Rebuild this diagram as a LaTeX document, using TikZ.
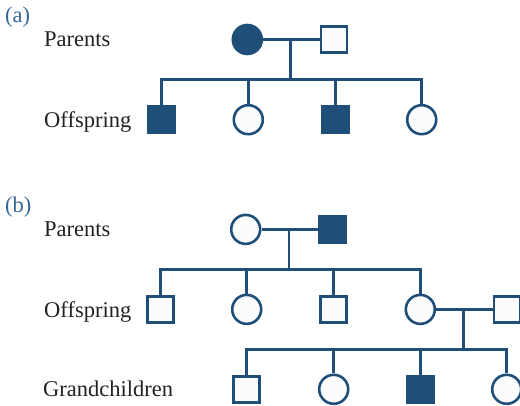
\documentclass[tikz,border=0pt]{standalone}
\usepackage{fontspec}
\setmainfont{Liberation Serif}
\definecolor{pedblue}{HTML}{1F4F78}
\definecolor{labelblue}{HTML}{36689A}
\definecolor{paleblue}{HTML}{FAFCFE}
\definecolor{inkgray}{HTML}{222222}
\tikzset{
  font=\fontsize{22.5}{27}\selectfont,
  member/.style={
    draw=pedblue,
    fill=paleblue,
    line width=2.6pt,
    inner sep=0pt
  },
  male/.style={member, rectangle, minimum size=26pt},
  female/.style={member, circle, minimum size=29pt},
  affected/.style={fill=pedblue},
  link/.style={draw=pedblue, line width=2.6pt},
  rowlabel/.style={anchor=base west, inner sep=0pt, text=inkgray},
  panel/.style={anchor=base west, inner sep=0pt, text=labelblue}
}
\begin{document}
\begin{tikzpicture}[x=1pt, y=-1pt]
  \useasboundingbox (0,0) rectangle (520,406);

  % (a)
  \node[panel] (lbla) at (5,22.7) {(a)};
  \node[rowlabel] (apar) at (44,46.5) {Parents};
  \node[rowlabel] (aoff) at (44,127.7) {Offspring};

  \node[female, affected] (amom) at (247.3,39.5) {};
  \node[male] (adad) at (334,39.5) {};
  \node[male, affected] (ac1) at (161.5,119.7) {};
  \node[female] (ac2) at (248.3,119.7) {};
  \node[male, affected] (ac3) at (335.3,119.7) {};
  \node[female] (ac4) at (421.7,119.7) {};
  \coordinate (amate) at (290.3,39.5);
  \coordinate (asib) at (290.3,79.3);

  \draw[link] (amom) -- (adad);
  \draw[link] (amate) -- (asib);
  \draw[link] (ac1) |- (asib) -| (ac4);
  \draw[link] (ac2) -- (ac2 |- asib);
  \draw[link] (ac3) -- (ac3 |- asib);

  % (b)
  \node[panel] (lblb) at (5,212.7) {(b)};
  \node[rowlabel] (bpar) at (44,236.5) {Parents};
  \node[rowlabel] (boff) at (44,318) {Offspring};
  \node[rowlabel] (bgrand) at (43,396.7) {Grandchildren};

  \node[female] (bmom) at (245.7,229.4) {};
  \node[male, affected] (bdad) at (332.7,229.4) {};
  \node[male] (bc1) at (160.3,309.6) {};
  \node[female] (bc2) at (246.7,309.4) {};
  \node[male] (bc3) at (333.7,309.6) {};
  \node[female] (bc4) at (420.3,309.4) {};
  \node[male] (bsp) at (507,309.4) {};
  \node[male] (bg1) at (246.7,389.3) {};
  \node[female] (bg2) at (333.7,389.3) {};
  \node[male, affected] (bg3) at (420.3,389.3) {};
  \node[female] (bg4) at (506.7,389.3) {};
  \coordinate (bmate) at (289,229.4);
  \coordinate (bsib) at (289,269.3);
  \coordinate (cmate) at (463.7,309.4);
  \coordinate (csib) at (463.7,349.3);

  \draw[link] (bmom) -- (bdad);
  \draw[link] (bmate) -- (bsib);
  \draw[link] (bc1) |- (bsib) -| (bc4);
  \draw[link] (bc2) -- (bc2 |- bsib);
  \draw[link] (bc3) -- (bc3 |- bsib);

  \draw[link] (bc4) -- (bsp);
  \draw[link] (cmate) -- (csib);
  \draw[link] (bg1) |- (csib) -| (bg4);
  \draw[link] (bg2) -- (bg2 |- csib);
  \draw[link] (bg3) -- (bg3 |- csib);
\end{tikzpicture}
\end{document}
